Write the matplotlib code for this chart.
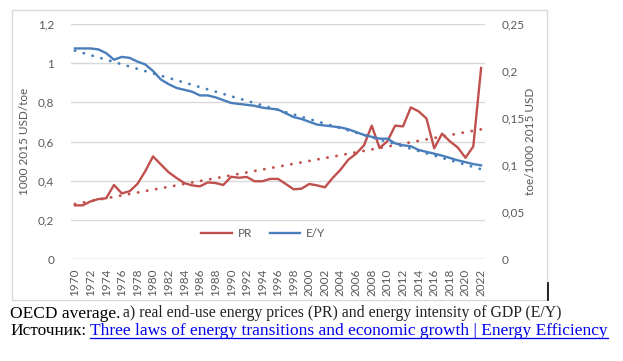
import numpy as np
import matplotlib
matplotlib.use("Agg")
import matplotlib.pyplot as plt
from matplotlib.lines import Line2D
from matplotlib.patches import Rectangle

years = list(range(1970, 2023))
pr = [0.274, 0.274, 0.294, 0.306, 0.310, 0.378, 0.335, 0.346, 0.383, 0.448,
      0.524, 0.483, 0.443, 0.414, 0.388, 0.376, 0.371, 0.391, 0.388, 0.378,
      0.420, 0.415, 0.419, 0.397, 0.397, 0.409, 0.409, 0.383, 0.356, 0.359,
      0.383, 0.376, 0.366, 0.414, 0.456, 0.507, 0.538, 0.580, 0.681, 0.567,
      0.601, 0.681, 0.677, 0.774, 0.754, 0.718, 0.565, 0.640, 0.601, 0.570,
      0.517, 0.575, 0.975]
ey = [0.224, 0.224, 0.224, 0.223, 0.219, 0.212, 0.215, 0.214, 0.210, 0.207,
      0.200, 0.191, 0.186, 0.182, 0.180, 0.178, 0.174, 0.174, 0.172, 0.169,
      0.166, 0.165, 0.164, 0.163, 0.161, 0.160, 0.159, 0.155, 0.151, 0.149,
      0.146, 0.143, 0.142, 0.141, 0.140, 0.138, 0.135, 0.132, 0.130, 0.128,
      0.128, 0.123, 0.121, 0.120, 0.116, 0.114, 0.112, 0.110, 0.1075, 0.105,
      0.103, 0.101, 0.0996]
left_ticks = [0, 0.2, 0.4, 0.6, 0.8, 1.0, 1.2]
left_labels = ["0", "0,2", "0,4", "0,6", "0,8", "1", "1,2"]
right_ticks = [0, 0.05, 0.10, 0.15, 0.20, 0.25]
right_labels = ["0", "0,05", "0,1", "0,15", "0,2", "0,25"]
xtick_years = list(range(1970, 2023, 2))

RED = "#C0504D"
BLUE = "#4A7EBB"
GREY = "#595959"
FONT = "Lato"

fig = plt.figure(figsize=(6.23, 3.61), dpi=100)
fig.patch.set_facecolor("white")

# chart border
fig.patches.append(Rectangle((12/623, 1-300/361), (547-12)/623, (300-10)/361,
                             transform=fig.transFigure, fill=False,
                             edgecolor="#D9D9D9", linewidth=1.0))
fig.lines.append(Line2D([548/623, 548/623], [1-283/361, 1-300/361],
                        transform=fig.transFigure, color="black", lw=1.2))

ax = fig.add_axes([71/623, 1-259/361, (485-71)/623, (259-24)/361])
ax2 = ax.twinx()

x = np.array(years)
# trendlines (linear fits)
cp = np.polyfit(x, pr, 1)
ce = np.polyfit(x, ey, 1)
dot = dict(linestyle=(0, (0.1, 3.2)), dash_capstyle="round", lw=2.0)
ax.plot(x, np.polyval(cp, x), color=RED, **dot)
ax2.plot(x, np.polyval(ce, x), color=BLUE, **dot)

l1, = ax.plot(x, pr, color=RED, lw=1.7, label="PR")
l2, = ax2.plot(x, ey, color=BLUE, lw=1.7, label="E/Y")

ax.set_xlim(1969.5, 2022.5)
ax.set_ylim(0, 1.2)
ax2.set_ylim(0, 0.25)
ax.set_yticks(left_ticks)
ax.set_yticklabels(left_labels)
ax2.set_yticks(right_ticks)
ax2.set_yticklabels(right_labels)
ax.set_xticks(xtick_years)
ax.set_xticklabels([str(y) for y in xtick_years], rotation=90)

for a in (ax, ax2):
    for s in a.spines.values():
        s.set_visible(False)
    a.tick_params(length=0, colors=GREY, labelsize=8.5)
    for lab in a.get_xticklabels() + a.get_yticklabels():
        lab.set_fontfamily(FONT)
ax.tick_params(axis="y", pad=12)
ax2.tick_params(axis="y", pad=12)
ax.tick_params(axis="x", pad=7)

ax.grid(axis="y", color="#D9D9D9", lw=1.0)
ax.set_axisbelow(True)
ax.axhline(0, color="#D9D9D9", lw=1.0)

ax.set_ylabel("1000 2015 USD/toe", color=GREY, fontsize=8.5, fontfamily=FONT, labelpad=6)
ax2.set_ylabel("toe/1000 2015 USD", color=GREY, fontsize=8.5, fontfamily=FONT,
               rotation=90, labelpad=0)

leg = ax.legend(handles=[l1, l2], loc="center", bbox_to_anchor=(0.464, 0.11),
                ncol=2, frameon=False, handlelength=2.6, columnspacing=1.5,
                handletextpad=0.5, prop={"family": FONT, "size": 8.5})
for t in leg.get_texts():
    t.set_color(GREY)

# caption
fig.text(10/623, 1-314/361, "OECD average.", fontfamily="Liberation Serif",
         fontsize=12.5, color="black", va="center")
fig.text(123/623, 1-313/361,
         "a) real end-use energy prices (PR) and energy intensity of GDP (E/Y)",
         fontfamily="Liberation Serif", fontsize=11.3, color="#222222", va="center")
fig.text(10/623, 1-331/361, "Источник:", fontfamily="Liberation Serif",
         fontsize=12.5, color="black", va="center")
link = fig.text(90/623, 1-331/361,
                "Three laws of energy transitions and economic growth | Energy Efficiency",
                fontfamily="Liberation Serif", fontsize=12.5, color="#0000EE", va="center")
fig.canvas.draw()
bb = link.get_window_extent()
yline = (bb.y0 + 1) / fig.bbox.height
fig.lines.append(Line2D([bb.x0 / fig.bbox.width, bb.x1 / fig.bbox.width], [yline, yline],
                        transform=fig.transFigure, color="#0000EE", lw=0.9))

fig.savefig("out.png", dpi=100, facecolor="white")
